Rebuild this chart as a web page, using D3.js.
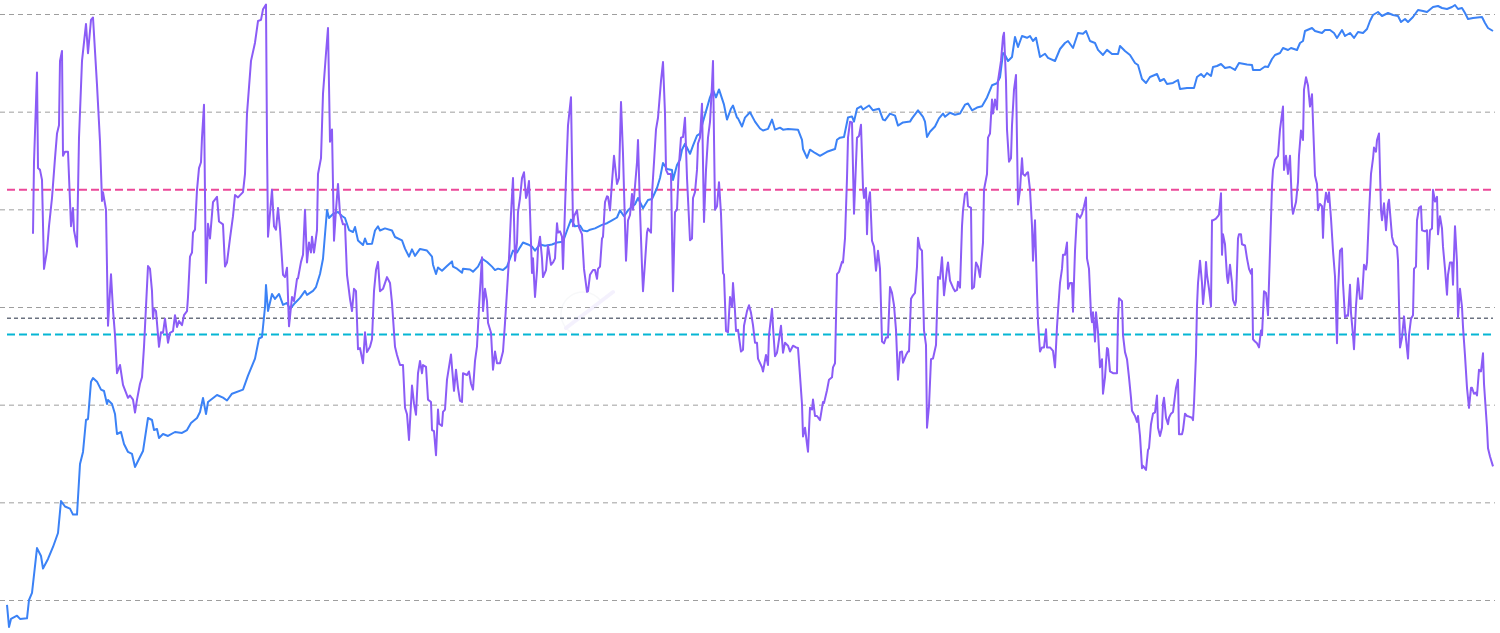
<!DOCTYPE html>
<html><head><meta charset="utf-8">
<script src="https://cdn.jsdelivr.net/npm/d3@7"></script>
<style>html,body{margin:0;padding:0;background:#fff;overflow:hidden}</style>
</head><body>
<svg id="chart" width="1500" height="633"></svg>
<script>
// Week index since start of series (time axis)
const priceWeek = [0,1,2,5,6.5,10,11,12.5,15,17,18,20.5,23,25.5,27,29,31.5,33,35,36.5,38,39.5,40.5,42,43,45,47,48.5,50,50.5,52.5,54,55,57,58.5,60.5,62.5,64,68,70.5,72.5,73.5,75,76,78,80.5,84,87.5,90,92,95,96.5,98,99.5,100.5,105,108,110,112.5,118,120.5,124,126,127.5,129,129.5,130.5,132.5,134,136,138,140,141.5,144,146.5,149,150,153,154.5,156.5,158,160,161,163,165.5,167.5,169,171,173,174,175.5,178,179,180,182.5,184,185.5,186.5,189,192.5,194,197.5,199,201,202.5,204,206.5,210,212.5,213,214.5,215.5,217.5,220,222.5,223,225,227.5,228,231.5,233,235.5,237.5,240,242.5,244,245.5,248,250,251.5,253,255,256.5,258,260.5,262.5,264,266.5,269,272.5,275,278,280,282,284,286.5,288,290,291.5,294,297.5,300,302.5,305,306.5,308.5,310.5,314,315.5,318,320.5,322.5,325,326.5,328,330,332.5,333,335,336.5,337.5,339,341.5,343,345,346.5,348,351.5,353,354.5,356,358.5,360,362,363,365,365.5,367.5,369,371.5,374,376.5,378,380.5,382.5,384,386.5,388,390.5,395.5,397.5,398,400,401.5,404,406.5,410,414,415,416.5,418.5,420.5,422.5,423.5,425,427,428,431,433,436,438,439,441.5,444,445.5,448,451.5,452.5,455.5,458,459,460,461.5,464,466,468,469,471.5,474,476.5,479,480.5,482.5,485,487.5,490,492.5,495,496.5,498,499,500.5,502.5,504,505.5,507.5,510,511.5,513,514.5,516.5,519,520.5,524,526.5,529,530.5,533,535.5,538,539.5,541.5,544,545.5,548,550,552.5,555.5,556.5,559,561.5,564,565.5,567.5,569.5,571.5,575,576.5,578.5,580,583,585.5,586.5,590,593.5,595,597,598.5,600,602,603,605,607,609,611.5,614,616,620,622.5,623,626.5,629,630.5,632.5,634,636.5,638,640.5,642,645,646.5,648,649,652.5,654,657.5,659,661.5,663.5,665,667.5,669,671.5,673.5,675.5,678,680,681.5,683,685.5,687.5,690.5,693,695.5,697,699,700.5,703,705.5,708,710,713,715.5,717.5,720,722.5,724,725.5,727.5,729,730.5,733,737.5,739,740.5,743];
// Price in USD (log axis)
const priceUSD = [0.089,0.053,0.064,0.069,0.064,0.065,0.1,0.118,0.34,0.282,0.21,0.263,0.349,0.485,1.03,0.906,0.862,0.749,0.749,2.47,3.28,6.97,7.13,17.2,18.75,17.2,14.27,13.8,10.16,11.16,10.16,8.03,5.01,5.25,3.96,3.28,3.13,2.30,3.35,7.30,6.97,5.50,5.64,4.56,5.01,4.78,5.25,5.13,5.50,6.49,7.30,8.41,11.7,8.03,10.65,12.56,11.79,11.03,12.95,14.27,19.84,29.6,47.6,49.3,100,168,91,136,121,136,105,110,95.4,110,124,146,133,146,160,218,312,984,815,896,939,855,815,614,586,659,480,431,503,442,444,607,669,607,638,607,521,480,396,328,389,334,393,378,328,271,218,254,235,263,293,259,247,224,247,242,230,259,313,289,259,239,247,239,259,313,378,361,408,458,437,415,378,437,424,437,458,466,607,785,669,682,607,596,619,638,694,721,770,825,977,849,977,1128,1307,1025,1246,1276,1654,2094,2982,2588,2528,1997,2844,3216,4079,4700,3704,4483,5675,5948,7912,14000,16670,14000,16900,11790,8296,10720,11570,8700,8533,7050,8700,9850,7912,6725,6416,6663,8296,6539,6856,6539,6663,6539,5152,4147,3363,4079,3775,3533,3882,4147,5152,5414,5505,8700,8945,7912,10720,11350,10530,11570,10330,10720,8296,8142,9556,9117,7201,7765,7912,8533,10330,8862,7912,5517,6237,7050,8533,9556,8862,9737,9290,9556,11790,12130,10330,11030,11350,14000,18620,19520,22480,39870,38060,33020,36290,58170,45940,59550,57080,59550,52910,57080,36290,39150,35530,33020,43820,50480,52910,44860,63900,62700,66990,52910,50480,42900,38060,42900,38960,38960,47030,41800,38060,31500,30060,21600,19670,22650,24310,20610,21600,19200,19670,21100,17070,17480,17480,22650,24310,22650,24890,23190,28670,29350,30770,28000,28670,26720,31500,30480,30060,26720,26720,29010,28670,34620,38060,39870,44860,42810,44860,42810,50480,52910,66990,71910,66990,63900,68590,68590,63900,56800,68590,59550,63900,56800,65420,63900,70240,84810,97680,104800,95410,102400,97680,95410,82820,88900,82820,93180,109900,107400,104800,118000,120800,115200,112500,118000,123700,112500,115200,102400,88900,91010,93180,80890,71910,66990];
const oscWeek = [13,13.5,15,15.5,16.5,17.5,18.5,20,21,22.5,24,25,26,26.5,27.5,28,29,30.5,32,33,33.5,35,36,37.5,39.5,40.5,42,43,45,46.5,47.5,48,49.5,50.5,52,53,54,55,56.5,58,60.5,61.5,63,64,65,66.5,67.5,68.5,70.5,71.5,72.5,73,73.5,74.5,76,77,78,79,80.5,81.5,83,84,85,86,87.5,88.5,90,90.5,91.5,92.5,93,94,95,96,97,97.5,98.5,99.5,100.5,101.5,103,105,106,108,109,110,111.5,113,114,115.5,118,119,120,122,124,125.5,127,128,129.5,130,130.5,132.5,133.5,134.5,135.5,136.5,138,139,140,141,142.5,143.5,145,145.5,147,148,149,150,151,152,152.5,153.5,155,155.5,157,158,159.5,160.5,161.5,162.5,163.5,164.5,165.5,166.5,168,169,170,171.5,172.5,173.5,174.5,175.5,176.5,178,179,180,181.5,182.5,183.5,184.5,185.5,186.5,188,190,191.5,192.5,194,195,196.5,198,199,200,201,202.5,203.5,204.5,205.5,206.5,207.5,208,209.5,210.5,212,212.5,213.5,214.5,215.5,216,217.5,218,219,220,222,222.5,223.5,224.5,225.5,226.5,227.5,228,230,231,232,233,234,235,236,237.5,238,239,240,240.5,242,243,244,245,246.5,248,249,250,251,252,253,254,255,255.5,256.5,257.5,258.5,259.5,260,261,262.5,263,264,265,265.5,266.5,267.5,268,269.5,270.5,272,273,274,275,275.5,276.5,277.5,278,279.5,280.5,282,283,283.5,285,286,287.5,288.5,290,290.5,291.5,293,294,295,295.5,296.5,297.5,298,299,300,300.5,301.5,302.5,303.5,305,306,307,308,309.5,310.5,311.5,312.5,313,314,315,315.5,316.5,317.5,318,319,320,320.5,322,322.5,323.5,324.5,325.5,327,328,329,329.5,330.5,332,333,334,335,336,337,338,339,340,341.5,342.5,343,344,345,345.5,346.5,347.5,348.5,349.5,350.5,351.5,352.5,353,353.5,354,355,356,357,358,358.5,359.5,360.5,361.5,362.5,363,364,364.5,365.5,367,368,368.5,370,371,372,373,374,375,375.5,377.5,378,379.5,380.5,381,382.5,383,384,385,385.5,387,388,389,390.5,391.5,393,394.5,395.5,396.5,397.5,398,399,400,400.5,401.5,402.5,403,404,405,406.5,408,408.5,410,411,412.5,413,414,415,416,417.5,418,419,420,420.5,421.5,422.5,423.5,425,426,427,428,428.5,429.5,430,430.5,431.5,432.5,433.5,434.5,435.5,436.5,437.5,438.5,439.5,440.5,441.5,442.5,443.5,444.5,445.5,446.5,447.5,448,449.5,450.5,451,452,453,454,455,455.5,456.5,457.5,458.5,459.5,460,461,462,463,464.5,465.5,466.5,467.5,468.5,470,470.5,471.5,473,474,475,475.5,476.5,477.5,478,479,480,480.5,482,482.5,483.5,484.5,485.5,486.5,488,488.5,490,490.5,491.5,492.5,493,494,495,495.5,497,498,498.5,499.5,500,501,502,502.5,503.5,504.5,505,505.5,506.5,507.5,508,509,510,510.5,511.5,512.5,513,514,515,515.5,516.5,517.5,518.5,519.5,520,521.5,523,524,525,525.5,526.5,527.5,528,529,530,530.5,531.5,532.5,533,534,535,536.5,537.5,538.5,539.5,540,541,542,542.5,543,544,544.5,545.5,546.5,547.5,548,549,550,550.5,551.5,553,555,555.5,556,557.5,558,559,560,561,562,562.5,564,565,565.5,566.5,567.5,568,569.5,570.5,571,572,573,574,575,575.5,576.5,577.5,578,578.5,579.5,580.5,581,582,583,584.5,585.5,586,587.5,588,589,590,591,592.5,593,593.5,594.5,595,595.5,596.5,597.5,598,599,599.5,600,601,602,602.5,603,604.5,605.5,606,607,607.5,608,609,610,610.5,611.5,612.5,613,614,614.5,615.5,616,617,617.5,619,620,621,622,622.5,623,624,625,626,627,627.5,628.5,629.5,630.5,631.5,632.5,633,634,635.5,636.5,638,638.5,639.5,640.5,641.5,642.5,643,644.5,645.5,646,647,648,648.5,649.5,650.5,651.5,652.5,653,654,655,655.5,656.5,657.5,658,658.5,659.5,660.5,661,662,663,664,665,665.5,666.5,667.5,668,669,670,670.5,671.5,672,673,673.5,674.5,675.5,676.5,677.5,678.5,679.5,680,681,682,683,683.5,684.5,685,686,687,687.5,688.5,689.5,690.5,691,692.5,693.5,695,695.5,696.5,697.5,698.5,699.5,700.5,701,702,703,703.5,704.5,705,706,707,707.5,709,710,710.5,711.5,712.5,713,714,715,715.5,716.5,717.5,718,719,720,720.5,721.5,722.5,723,724,725,725.5,726.5,727.5,728,729,730,731,732,732.5,733.5,734.5,735,736,737,738,738.5,740,740.5,741.5,743];
// Oscillator value (0-100 scale)
const oscValue = [62.5,74.7,90.0,73.7,73.4,71.7,56.5,59.6,63.8,68.6,75.4,79.6,81.0,92.0,93.7,75.8,76.5,76.5,63.8,66.9,63.1,60.3,78.9,92.0,98.3,93.3,99.0,99.4,87.9,78.2,68.1,69.6,66.6,46.8,55.6,49.5,45.2,38.7,40.1,36.7,34.5,34.9,34.2,32.0,34.2,36.9,38.0,43.2,57.0,56.5,52.7,48.0,49.7,49.3,43.2,45.7,45.6,48.0,43.9,45.6,45.9,48.6,46.6,47.6,46.9,48.6,49.3,51.7,58.6,59.3,62.7,63.2,70.0,73.7,74.7,78.9,84.5,54.1,64.2,61.7,67.9,68.8,64.6,64.1,56.9,57.6,61.7,65.5,69.1,68.7,69.6,72.7,83.0,92.0,95.1,98.8,99.0,100.8,101.6,78.2,62.0,70.0,63.8,63.2,66.9,63.4,55.5,55.1,56.7,46.7,51.7,51.0,54.8,54.9,57.7,58.9,66.6,57.6,61.0,59.3,62.0,59.3,63.1,72.7,75.4,86.4,93.3,97.6,78.2,80.3,61.3,66.6,71.0,65.9,64.1,64.1,55.5,51.4,49.3,53.1,52.7,42.8,43.0,40.4,45.7,42.3,43.2,44.5,52.7,56.3,57.7,52.7,53.1,55.1,54.1,50.7,43.2,41.8,40.1,40.1,32.8,31.7,27.3,36.6,33.5,31.6,38.7,40.8,38.7,40.1,39.8,34.2,33.8,29.0,28.8,24.7,32.5,30.1,29.7,32.1,32.5,37.6,41.9,39.7,35.7,39.3,36.2,34.0,33.8,38.7,38.4,39.0,36.9,35.9,40.8,43.3,50.0,58.5,49.3,53.1,51.0,47.3,45.6,39.3,42.4,40.4,40.4,42.4,47.3,52.7,58.3,65.9,72.0,57.9,61.0,66.2,68.6,72.0,73.0,68.6,69.1,71.5,55.8,58.3,51.7,56.2,60.0,62.0,58.3,55.1,56.3,60.5,57.2,57.6,58.3,64.3,62.7,62.9,62.0,56.5,72.0,81.0,85.8,63.8,65.5,66.5,63.6,62.4,56.5,52.6,52.7,55.5,56.3,56.3,54.8,56.5,56.9,61.7,62.0,67.9,68.9,68.8,66.5,71.3,75.8,71.0,72.0,85.0,76.1,57.9,64.8,65.7,69.3,66.6,70.6,74.7,78.5,66.6,56.9,52.7,57.6,62.7,63.4,62.7,69.3,74.7,80.3,82.3,88.6,91.8,83.0,73.4,72.7,72.7,52.7,66.2,66.6,74.4,78.9,79.0,82.3,72.0,61.4,61.7,68.6,69.6,73.4,77.9,78.9,84.7,64.5,73.4,78.9,81.6,87.9,92.0,78.9,66.6,67.2,71.3,65.9,55.8,55.5,45.9,45.7,51.7,50.0,54.1,49.3,45.9,46.1,42.4,42.7,46.8,49.3,50.3,49.0,46.9,43.9,43.9,41.2,39.7,39.0,41.8,40.1,45.2,49.7,46.6,41.6,42.2,43.3,46.8,42.2,43.9,43.4,42.4,43.4,43.1,43.0,38.3,33.4,27.9,29.4,26.6,25.3,32.8,32.5,34.2,31.4,31.4,30.7,33.8,33.6,35.8,37.6,38.0,39.7,40.4,55.6,56.0,57.7,57.6,61.7,72.0,78.9,81.6,81.5,65.9,78.9,79.2,81.1,70.3,68.6,70.3,62.4,67.6,69.6,61.3,60.3,56.2,59.6,56.5,44.1,43.8,44.8,44.8,53.4,52.4,50.3,46.1,37.6,42.3,42.4,40.5,41.8,42.4,42.4,51.4,52.0,52.4,56.9,61.8,60.0,59.6,46.0,43.5,29.4,33.1,41.1,41.2,43.5,55.1,54.8,58.5,52.0,56.5,57.6,54.5,53.3,52.7,52.9,54.3,53.3,63.8,66.5,69.3,69.6,67.2,66.9,53.1,53.4,57.6,56.9,55.1,61.0,70.0,72.7,78.9,79.6,85.4,83.0,85.4,83.7,88.6,92.0,96.1,96.8,88.6,80.3,74.8,75.4,81.0,87.1,89.6,78.2,67.5,70.0,75.4,72.7,72.4,72.9,73.0,70.0,63.8,57.9,64.8,52.7,47.3,42.4,43.1,43.1,46.2,43.1,43.1,42.5,39.7,46.6,49.3,54.1,56.5,58.9,58.9,61.0,53.1,54.1,54.1,49.2,59.6,65.9,65.2,65.9,67.2,68.7,58.3,56.5,48.7,47.4,49.1,44.1,49.1,45.7,39.7,41.1,35.2,38.0,43.0,42.8,39.0,38.7,38.7,48.0,51.5,51.0,45.2,42.3,41.1,38.0,34.5,32.3,31.4,30.4,31.4,28.0,22.5,22.9,22.2,25.6,25.9,30.0,31.8,32.0,34.9,29.4,28.0,29.4,33.5,34.5,31.1,30.0,31.1,31.8,32.1,36.2,37.6,28.3,28.3,29.0,31.8,31.4,31.3,31.1,30.7,33.5,41.9,50.2,54.1,57.9,54.1,50.5,54.1,57.7,55.5,53.1,50.1,64.8,64.8,65.1,65.5,65.8,69.4,58.9,62.4,60.7,55.2,54.1,57.2,54.1,51.2,50.3,51.0,61.7,62.4,62.4,60.7,60.5,58.3,56.5,55.7,56.5,44.5,44.1,43.8,43.1,46.0,45.2,52.7,52.4,48.6,59.6,70.6,73.4,75.1,75.8,80.3,84.2,73.4,75.8,72.7,75.8,67.2,65.9,67.9,71.3,75.9,80.1,78.5,87.1,89.2,87.8,84.2,86.3,81.6,72.4,71.0,66.5,67.6,67.2,61.8,66.6,69.5,67.9,69.6,65.1,59.6,55.2,43.8,52.7,59.6,60.0,54.1,48.2,48.6,48.5,53.8,49.0,45.2,42.8,50.2,54.9,51.4,51.4,57.2,56.4,57.6,65.9,72.7,75.3,77.2,76.5,78.5,79.6,66.5,64.8,67.7,63.1,67.6,68.3,62.0,60.7,60.2,57.9,43.1,44.8,48.4,44.5,41.2,45.2,48.0,48.6,56.5,56.9,64.8,66.9,67.2,63.1,62.9,63.1,56.5,63.1,63.4,70.0,68.0,68.8,62.4,65.5,63.4,60.3,56.5,52.1,55.5,57.6,57.6,53.8,63.8,57.6,48.3,53.1,50.0,46.6,41.7,36.2,32.8,36.2,36.2,35.2,35.4,34.9,39.3,39.0,42.1,36.9,29.4,25.9,24.5,22.8];
const gridTicks = [0.1, 1, 10, 100, 1000, 10000, 100000];
const levelValues = [70, 48.1, 45.3];
const levelColors = ["#ec4899", "#6b7280", "#06b6d4"];

const W = 1500, H = 633;
const svg = d3.select("#chart");
svg.append("rect").attr("width", W).attr("height", H).attr("fill", "#fff");

const x = d3.scaleLinear().domain([0, 743]).range([7, 1493]);
const yPrice = d3.scaleLog().domain([0.1, 100000]).range([600, 14]);
const yOsc = d3.scaleLinear().domain([0, 100]).range([600, 14]);

// gridlines
const grid = svg.append("g")
  .call(d3.axisRight(yPrice).tickValues(gridTicks).tickSize(1495).tickFormat(""));
grid.select(".domain").remove();
grid.selectAll(".tick line")
  .attr("stroke", "#9e9e9e").attr("stroke-width", 1).attr("stroke-dasharray", "5,4");

// faint watermark
const wm = svg.append("g").attr("opacity", 0.3);
wm.append("path").attr("d", "M600,300 A22,22 0 1 0 592,334").attr("fill", "none")
  .attr("stroke", "#e6e9ee").attr("stroke-width", 1.5);
wm.append("line").attr("x1", 566).attr("y1", 328).attr("x2", 613).attr("y2", 292)
  .attr("stroke", "#ddd3fa").attr("stroke-width", 4).attr("stroke-linecap", "round");

// level lines
svg.append("g").selectAll("line").data(levelValues).join("line")
  .attr("x1", x(0)).attr("x2", x(743))
  .attr("y1", d => yOsc(d)).attr("y2", d => yOsc(d))
  .attr("stroke", (d, i) => levelColors[i])
  .attr("stroke-width", (d, i) => i === 1 ? 1.5 : 2)
  .attr("stroke-dasharray", (d, i) => i === 1 ? "4,3" : "8,4");

const priceData = priceWeek.map((w, i) => ({w, v: priceUSD[i]}));
const oscData = oscWeek.map((w, i) => ({w, v: oscValue[i]}));

svg.append("path").datum(priceData)
  .attr("fill", "none").attr("stroke", "#3b82f6").attr("stroke-width", 2)
  .attr("stroke-linejoin", "round")
  .attr("d", d3.line().x(d => x(d.w)).y(d => yPrice(d.v)));

svg.append("path").datum(oscData)
  .attr("fill", "none").attr("stroke", "#8b5cf6").attr("stroke-width", 2)
  .attr("stroke-linejoin", "round")
  .attr("d", d3.line().x(d => x(d.w)).y(d => yOsc(d.v)));
</script>
</body></html>
